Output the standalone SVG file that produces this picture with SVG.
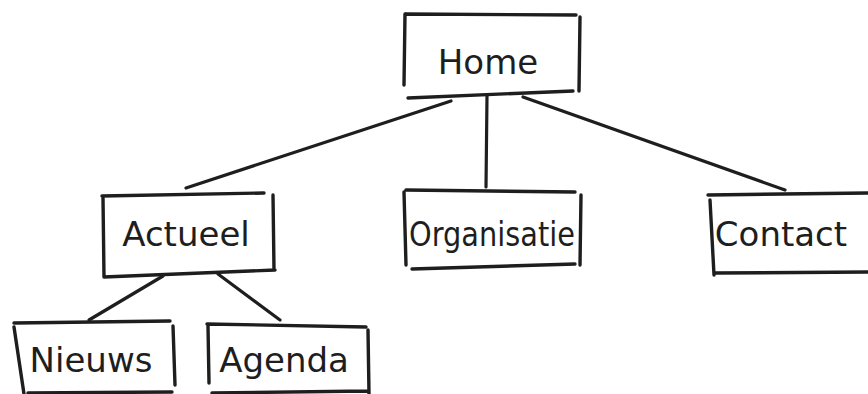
<svg xmlns="http://www.w3.org/2000/svg" width="868" height="394" viewBox="0 0 868 394">
<style>
.b{fill:none;stroke:#1e1e1e;stroke-width:3.4;stroke-linecap:round;stroke-linejoin:round}
.c{fill:none;stroke:#1e1e1e;stroke-width:3.2;stroke-linecap:round}
.t{font-family:"DejaVu Sans","Liberation Sans",sans-serif;fill:#1e1e1e;text-anchor:middle;font-size:34px}
</style>
<rect width="868" height="394" fill="#ffffff"/>
<g id="connectors">
<path class="c" d="M451,101 L186,188"/>
<path class="c" d="M487,96 L486,187"/>
<path class="c" d="M523,97 L785,190"/>
<path class="c" d="M163,276 L89,320"/>
<path class="c" d="M218,274 L280,320"/>
</g>
<g id="home">
<path class="b" d="M406,14 L576,15 M405,14 L404,85 M580,17 L579,91 M408,98 L573,91"/>
<text class="t" x="488" y="74">Home</text>
</g>
<g id="actueel">
<path class="b" d="M102,196 L264,193 M103,198 L104,277 M273,195 L274,270 M104,277 L275,270"/>
<text class="t" x="186" y="246">Actueel</text>
</g>
<g id="organisatie">
<path class="b" d="M406,190 L575,192 M404,192 L406,265 M581,195 L580,265 M412,269 L575,264"/>
<text class="t" x="492" y="246" textLength="166" lengthAdjust="spacingAndGlyphs" style="font-size:33px">Organisatie</text>
</g>
<g id="contact">
<path class="b" d="M708,195 L868,193 M710,200 L714,275 M715,273 L868,272"/>
<text class="t" x="781" y="246">Contact</text>
</g>
<g id="nieuws">
<path class="b" d="M14,323 L170,321 M14,327 L24,394 M173,326 L175,385 M28,393 L172,392"/>
<text class="t" x="91" y="372">Nieuws</text>
</g>
<g id="agenda">
<path class="b" d="M207,324 L366,327 M208,326 L209,383 M368,330 L369,394 M212,393 L368,391"/>
<text class="t" x="284" y="372">Agenda</text>
</g>
</svg>
